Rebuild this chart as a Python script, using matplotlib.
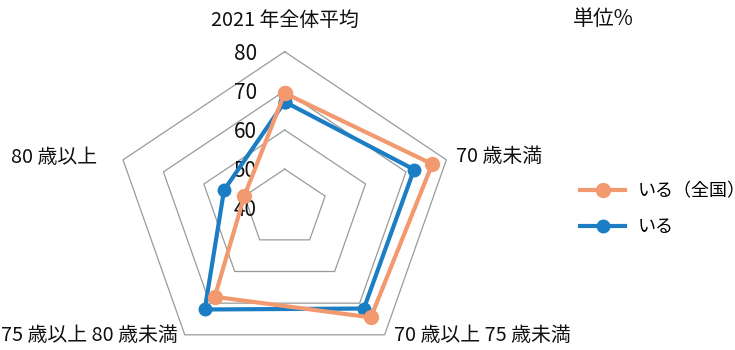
import matplotlib
matplotlib.use("Agg")
import matplotlib.pyplot as plt
import numpy as np

plt.rcParams['font.family'] = ['Noto Sans CJK JP', 'DejaVu Sans']

# axes of the radar, clockwise from the top
categories = ['2021 年全体平均', '70 歳未満', '70 歳以上 75 歳未満',
              '75 歳以上 80 歳未満', '80 歳以上']
national = [69.4, 76.5, 74.5, 68.0, 50.0]   # いる（全国）
local = [67.2, 72.0, 71.7, 72.0, 55.0]      # いる
series_names = ['いる（全国）', 'いる']
rings = [50, 60, 70, 80]
tick_values = [40, 50, 60, 70, 80]
unit_label = '単位%'

ORANGE = '#F2996F'
BLUE = '#1B7DC3'

W, H = 735, 350
fig = plt.figure(figsize=(W / 100, H / 100), dpi=100)

# polar axes stretched to a rectangle so the pentagon is a bit wider than tall
cx, cy, rx, ry = 284.7, 208.2, 170.0, 156.5
ax = fig.add_axes([(cx - rx) / W, 1 - (cy + ry) / H, 2 * rx / W, 2 * ry / H],
                  projection='polar')
ax.set_aspect('auto')
ax.set_theta_zero_location('N')
ax.set_theta_direction(-1)
ax.set_rlim(40, 80)
ax.grid(False)
ax.set_xticks([])
ax.set_yticks([])
ax.spines['polar'].set_visible(False)
ax.patch.set_visible(False)

n = len(categories)
theta = np.linspace(0, 2 * np.pi, n, endpoint=False)
closed = np.append(theta, theta[0])

# pentagon grid
for r in rings:
    ax.plot(closed, [r] * (n + 1), color='#9a9a9a', lw=0.9, zorder=1,
            clip_on=False)

# value labels along the top axis
for v in tick_values:
    ax.annotate(str(v), (0, v), xytext=(-28, -2), textcoords='offset pixels',
                ha='right', va='center', fontsize=15, color='#111111',
                zorder=2, annotation_clip=False)

# category labels around the outside
label_offsets = [(0, 31, 'center'), (10, 3, 'left'), (9, -1, 'left'),
                 (-7, -1, 'right'), (-26, 2, 'right')]
for t, name, (dx, dy, ha) in zip(theta, categories, label_offsets):
    ax.annotate(name, (t, 80), xytext=(dx, dy), textcoords='offset pixels',
                ha=ha, va='center', fontsize=14.3, color='#111111',
                annotation_clip=False)

h_blue, = ax.plot(closed, local + local[:1], color=BLUE, lw=3.0,
                  marker='o', ms=9, zorder=4, clip_on=False,
                  label=series_names[1])
h_orange, = ax.plot(closed, national + national[:1], color=ORANGE, lw=3.0,
                    marker='o', ms=10, zorder=5, clip_on=False,
                    label=series_names[0])

fig.legend(handles=[h_orange, h_blue], loc='upper left',
           bbox_to_anchor=(580 / W, 1 - 182 / H), frameon=False,
           fontsize=13, handlelength=2.5, handletextpad=0.67,
           labelspacing=1.0, borderpad=0, borderaxespad=0)

fig.text(573 / W, 1 - 19 / H, unit_label, ha='left', va='center',
         fontsize=15, color='#111111')

fig.savefig('out.png', dpi=100)
